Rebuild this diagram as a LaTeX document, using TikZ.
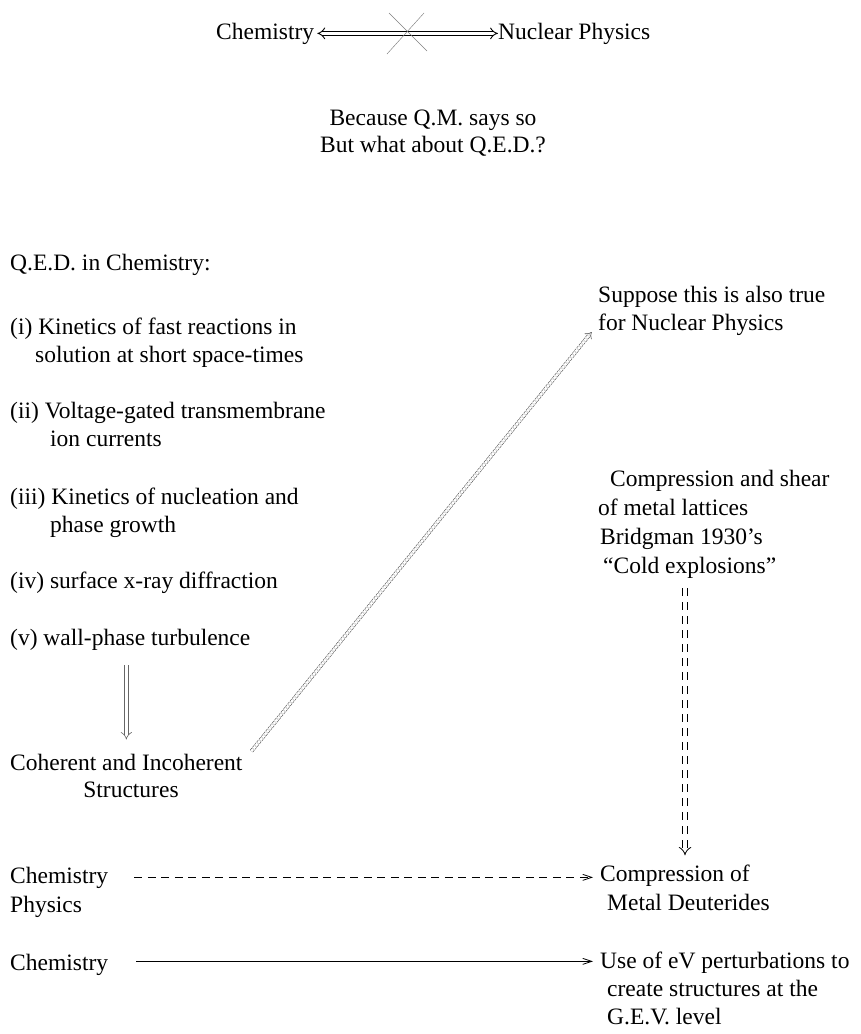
\documentclass[tikz,border=0pt]{standalone}
\usepackage{fontspec}
\setmainfont{Liberation Serif}
\usetikzlibrary{arrows.meta}

\tikzset{
  txt/.style={anchor=base west, inner sep=0pt, font=\fontsize{23.5}{28}\selectfont},
  ctxt/.style={txt, anchor=base},
  dblarrow/.style={double, double distance=3.2pt, line width=0.9pt, -Implies},
  dashdbl/.style={double, double distance=3.6pt, line width=0.8pt,
                  dash pattern=on 8pt off 6pt, -Implies},
  fineddbl/.style={double, double distance=2.6pt, line width=0.55pt, draw=black!70,
                   dash pattern=on 2.5pt off 1pt, -Implies},
  graydbl/.style={double, double distance=3.4pt, line width=0.6pt, draw=black!60, -Implies},
  flow/.style={line width=0.8pt, -{Straight Barb[length=9pt,width=6pt]}},
  crossline/.style={line width=0.45pt, draw=black!50}
}

\begin{document}
\begin{tikzpicture}[x=1pt, y=-1pt]
  \useasboundingbox[fill=white] (0,0) rectangle (860,1034);

  % --- heading: forbidden link ---
  \node[txt] (chemtop) at (216,39) {Chemistry};
  \node[txt] (nuctop)  at (498,39) {Nuclear Physics};
  \draw[dblarrow, Implies-Implies, shorten <=3pt] (chemtop.east) -- (nuctop.west);
  \coordinate (cross) at (407,32);
  \draw[crossline] (cross) +(-18,-19) -- +(20,19);
  \draw[crossline] (cross) +(17,-19) -- +(-20,22);

  \node[ctxt] (because) at (433,125) {Because Q.M. says so};
  \node[ctxt] (whatabout) at (433,152) {But what about Q.E.D.?};

  % --- left column ---
  \node[txt] (qed)   at (10,270) {Q.E.D. in Chemistry:};
  \node[txt] (ia)    at (10,334) {(i) Kinetics of fast reactions in};
  \node[txt] (ib)    at (35,362) {solution at short space-times};
  \node[txt] (iia)   at (10,418) {(ii) Voltage-gated transmembrane};
  \node[txt] (iib)   at (50,446) {ion currents};
  \node[txt] (iiia)  at (10,504) {(iii) Kinetics of nucleation and};
  \node[txt] (iiib)  at (50,532) {phase growth};
  \node[txt] (iv)    at (10,588) {(iv) surface x-ray diffraction};
  \node[txt] (v)     at (10,645) {(v) wall-phase turbulence};
  \node[txt] (coh)   at (10,770) {Coherent and Incoherent};
  \node[ctxt] (struct) at (131,797) {Structures};

  \node[txt] (chemA) at (10,883) {Chemistry};
  \node[txt] (phys)  at (10,912) {Physics};
  \node[txt] (chemB) at (10,970) {Chemistry};

  % --- right column ---
  \node[txt] (supA)  at (598,302) {Suppose this is also true};
  \node[txt] (supB)  at (598,330) {for Nuclear Physics};
  \node[txt] (csA)   at (610,486) {Compression and shear};
  \node[txt] (csB)   at (598,515) {of metal lattices};
  \node[txt] (csC)   at (600,544) {Bridgman 1930’s};
  \node[txt] (csD)   at (603,573) {“Cold explosions”};
  \node[txt] (compA) at (600,881) {Compression of};
  \node[txt] (compB) at (607,910) {Metal Deuterides};
  \node[txt] (useA)  at (600,968) {Use of eV perturbations to};
  \node[txt] (useB)  at (607,996) {create structures at the};
  \node[txt] (useC)  at (607,1024) {G.E.V. level};

  % --- connectors ---
  \draw[graydbl, shorten <=15pt, shorten >=14pt] (v.south -| coh.north) -- (coh.north);
  \draw[fineddbl, shorten <=14pt, shorten >=10pt] (coh.east) -- (supB.west);
  \coordinate (rv) at (685,0);
  \draw[dashdbl, shorten <=10pt, shorten >=9pt] (csD.south -| rv) -- (compA.north -| rv);
  \draw[flow, dash pattern=on 8pt off 5.5pt, shorten <=26pt, shorten >=7pt]
    (chemA.east) -- (chemA.east -| compA.west);
  \draw[flow, shorten <=28pt, shorten >=7pt]
    ([yshift=3pt]chemB.east) -- ([yshift=3pt]chemB.east -| useA.west);
\end{tikzpicture}
\end{document}
